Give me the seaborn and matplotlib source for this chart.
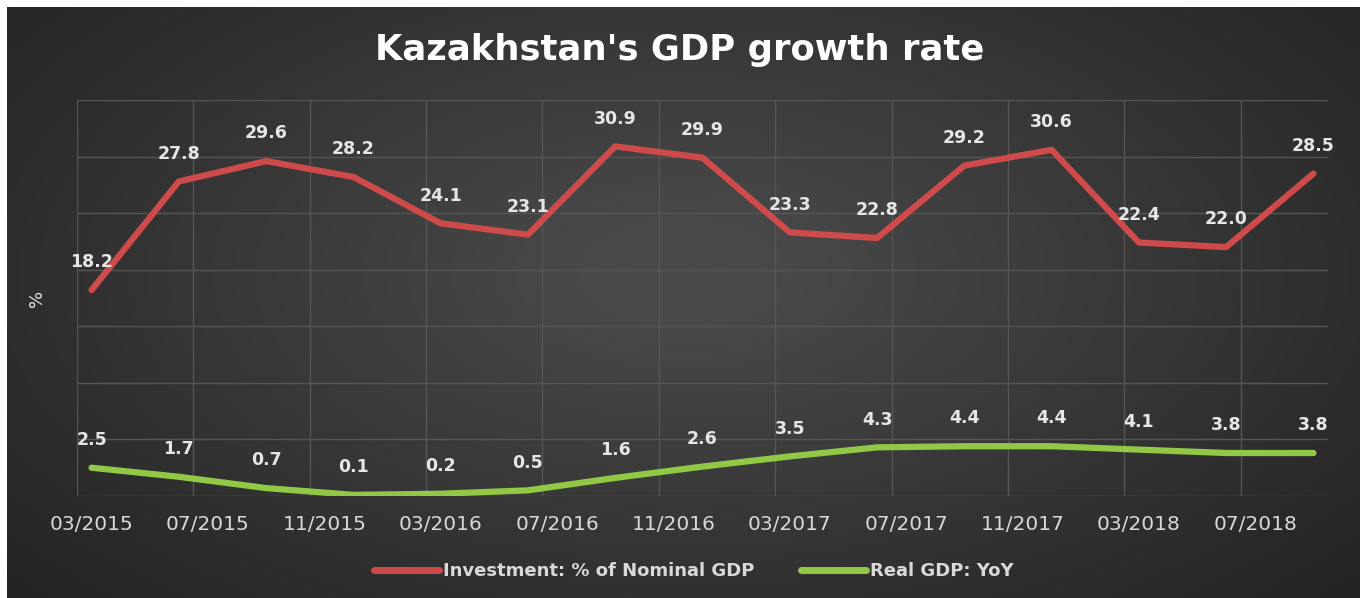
import numpy as np
import pandas as pd
import matplotlib.pyplot as plt
import seaborn as sns

# datos
trimestres = ["03/2015", "06/2015", "09/2015", "12/2015",
              "03/2016", "06/2016", "09/2016", "12/2016",
              "03/2017", "06/2017", "09/2017", "12/2017",
              "03/2018", "06/2018", "09/2018"]
inversion = [18.2, 27.8, 29.6, 28.2, 24.1, 23.1, 30.9, 29.9,
             23.3, 22.8, 29.2, 30.6, 22.4, 22.0, 28.5]
pib_real = [2.5, 1.7, 0.7, 0.1, 0.2, 0.5, 1.6, 2.6,
            3.5, 4.3, 4.4, 4.4, 4.1, 3.8, 3.8]
etiquetas_x = ["03/2015", "07/2015", "11/2015", "03/2016", "07/2016", "11/2016",
               "03/2017", "07/2017", "11/2017", "03/2018", "07/2018"]
serie_inv = "Investment: % of Nominal GDP"
serie_pib = "Real GDP: YoY"
colores = {serie_inv: "#cf4a4a", serie_pib: "#93c847"}


def a_meses(fechas):
    d = pd.to_datetime(fechas, format="%m/%Y")
    return (d.year - 2015) * 12 + (d.month - 3)


x = a_meses(trimestres)
df = pd.concat([
    pd.DataFrame({"mes": x, "valor": inversion, "serie": serie_inv}),
    pd.DataFrame({"mes": x, "valor": pib_real, "serie": serie_pib}),
])

fig = plt.figure(figsize=(13.6, 5.98), dpi=100, facecolor="white")

# fondo degradado
bg = fig.add_axes([7 / 1360, 0, 1 - 7 / 1360, 1 - 7 / 598], zorder=-10)
yy, xx = np.mgrid[0:1:300j, 0:1:600j]
r = np.sqrt(((xx - 0.5) / 0.75) ** 2 + ((yy - 0.45) / 0.9) ** 2)
grad = np.clip(1 - r, 0, 1)
bg.imshow(grad, cmap=sns.blend_palette(["#1e1e1e", "#484848"], as_cmap=True),
          aspect="auto", extent=[0, 1, 0, 1], vmin=0, vmax=0.9)
bg.axis("off")

ax = fig.add_axes([77 / 1360, 1 - 496 / 598, (1328 - 77) / 1360, (496 - 100) / 598])
ax.set_facecolor("none")

sns.lineplot(data=df, x="mes", y="valor", hue="serie", palette=colores,
             linewidth=4.5, ax=ax, legend=False, solid_capstyle="round")

# etiquetas de datos
for xi, v in zip(x, inversion):
    ax.annotate(f"{v:.1f}", (xi, v), xytext=(0, 20), textcoords="offset points",
                ha="center", va="center", color="#e6e6e6", fontsize=12.5, fontweight="bold")
for xi, v in zip(x, pib_real):
    ax.annotate(f"{v:.1f}", (xi, v), xytext=(0, 20), textcoords="offset points",
                ha="center", va="center", color="#e6e6e6", fontsize=12.5, fontweight="bold")

ax.set_xlim(-0.5, 42.5)
ax.set_ylim(0, 35)
ax.set_xticks(a_meses(etiquetas_x))
ax.set_xticklabels(etiquetas_x, color="#d9d9d9", fontsize=14.5)
ax.set_xticks(np.arange(-0.5, 40, 4), minor=True)
ax.set_yticks(np.arange(0, 36, 5))
ax.set_yticklabels([])
ax.tick_params(axis="both", which="both", length=0, pad=14)
ax.grid(False)
ax.grid(axis="x", which="minor", color="#555555", linewidth=1)
ax.grid(axis="y", which="major", color="#555555", linewidth=1)
for s in ax.spines.values():
    s.set_visible(False)
ax.set_xlabel("")
ax.set_ylabel("%", color="#e6e6e6", fontsize=13, labelpad=8)

fig.text(0.5, 1 - 50 / 598, "Kazakhstan's GDP growth rate", ha="center", va="center",
         color="white", fontsize=25.5, fontweight="bold")

handles = [plt.Line2D([], [], color=colores[s], linewidth=5, solid_capstyle="round")
           for s in [serie_inv, serie_pib]]
fig.legend(handles, [serie_inv, serie_pib], loc="center", bbox_to_anchor=(0.51, 0.045),
           ncol=2, frameon=False, handlelength=3.6, handletextpad=0.2, columnspacing=2.6,
           prop={"size": 13, "weight": "bold"}, labelcolor="#d9d9d9")

plt.savefig("out.png", dpi=100, facecolor=fig.get_facecolor())
plt.close()
